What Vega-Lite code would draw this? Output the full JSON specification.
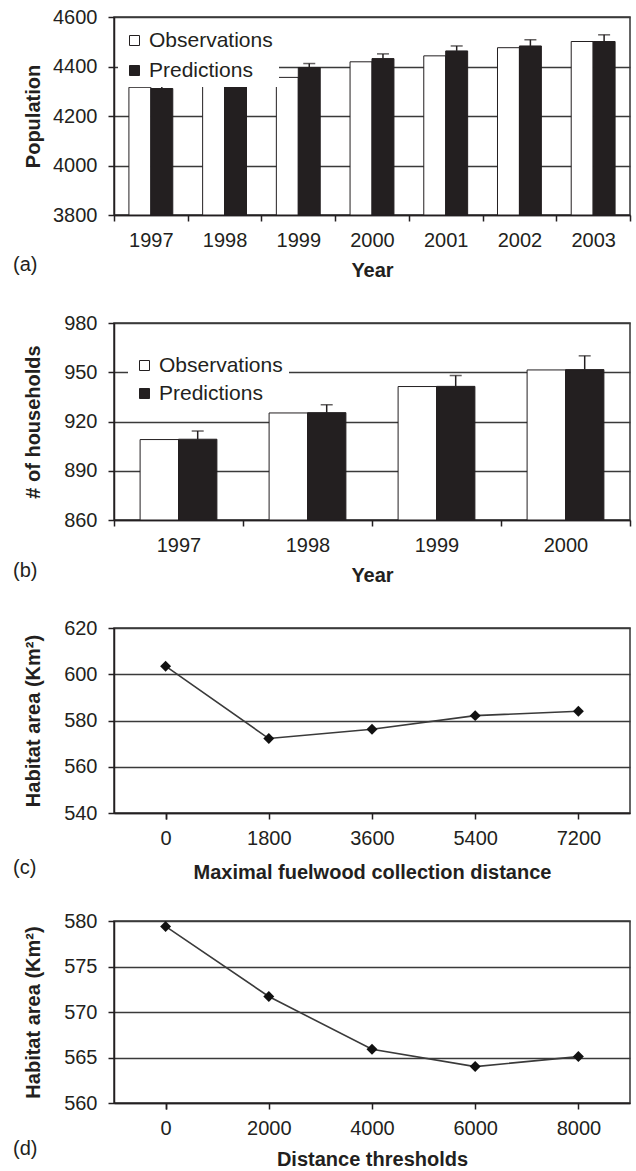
{
  "$schema": "https://vega.github.io/schema/vega-lite/v6.json",
  "background": "white",
  "padding": {"left": 12, "top": 6, "right": 5, "bottom": 5},
  "config": {
    "font": "Liberation Sans",
    "view": {"stroke": "#333333", "strokeWidth": 1.5},
    "axis": {
      "labelFont": "Liberation Sans", "labelFontSize": 20, "labelColor": "#231f20",
      "titleFont": "Liberation Sans", "titleFontSize": 20, "titleFontWeight": "bold", "titleColor": "#231f20",
      "domainColor": "#231f20", "domainWidth": 1.5, "tickColor": "#231f20", "tickWidth": 1.5, "tickSize": 6,
      "gridColor": "#3a3a3a", "gridWidth": 1.3, "gridOpacity": 1
    },
    "axisX": {"labelAngle": 0, "grid": false, "tickBand": "extent", "labelPadding": 9, "titlePadding": 10},
    "axisY": {"grid": true, "labelPadding": 11, "titleX": -71, "titleBaseline": "bottom", "format": "d"},
    "title": {"fontSize": 20, "fontWeight": "normal", "color": "#231f20", "font": "Liberation Sans"}
  },
  "bounds": "flush",
  "spacing": 108,
  "resolve": {"scale": {"fill": "independent", "x": "independent", "y": "independent", "xOffset": "independent"}, "legend": {"fill": "independent"}},
  "vconcat": [
    {
      "width": 516, "height": 198,
      "title": {"text": "(a)", "orient": "bottom", "anchor": "start", "frame": "bounds", "offset": 0, "dx": -10, "dy": -25},
      "data": {"values": [
        {"year": "1997", "series": "Observations", "value": 4316, "err": null},
        {"year": "1997", "series": "Predictions", "value": 4311, "err": 4324},
        {"year": "1998", "series": "Observations", "value": 4324, "err": null},
        {"year": "1998", "series": "Predictions", "value": 4325, "err": null},
        {"year": "1999", "series": "Observations", "value": 4356, "err": null},
        {"year": "1999", "series": "Predictions", "value": 4396, "err": 4412},
        {"year": "2000", "series": "Observations", "value": 4419, "err": null},
        {"year": "2000", "series": "Predictions", "value": 4432, "err": 4451},
        {"year": "2001", "series": "Observations", "value": 4443, "err": null},
        {"year": "2001", "series": "Predictions", "value": 4463, "err": 4483},
        {"year": "2002", "series": "Observations", "value": 4476, "err": null},
        {"year": "2002", "series": "Predictions", "value": 4483, "err": 4508},
        {"year": "2003", "series": "Observations", "value": 4501, "err": null},
        {"year": "2003", "series": "Predictions", "value": 4501, "err": 4528}
      ]},
      "encoding": {
        "x": {"field": "year", "type": "ordinal", "scale": {"paddingInner": 0, "paddingOuter": 0}, "axis": {"title": "Year"}},
        "xOffset": {"field": "series", "type": "nominal", "scale": {"paddingInner": 0, "paddingOuter": 0.68}}
      },
      "layer": [
        {
          "mark": {"type": "bar", "stroke": "#231f20", "strokeWidth": 1},
          "encoding": {
            "y": {"field": "value", "type": "quantitative", "scale": {"domain": [3800, 4600], "zero": false, "nice": false},
                  "axis": {"title": "Population", "values": [3800, 4000, 4200, 4400, 4600]}},
            "y2": {"datum": 3800},
            "fill": {"field": "series", "type": "nominal",
                     "scale": {"domain": ["Observations", "Predictions"], "range": ["#ffffff", "#231f20"]},
                     "legend": {"orient": "none", "legendX": 4, "legendY": 7, "title": null, "fillColor": "white", "padding": 6,
                                "symbolType": "square", "symbolSize": 100, "symbolStrokeColor": "#231f20", "symbolStrokeWidth": 1,
                                "labelFontSize": 21, "labelOffset": 4, "rowPadding": 8, "labelColor": "#231f20", "labelFont": "Liberation Sans"}}
          }
        },
        {
          "transform": [{"filter": "datum.err != null"}],
          "mark": {"type": "rule", "color": "#231f20", "strokeWidth": 1.5},
          "encoding": {"y": {"field": "value", "type": "quantitative"}, "y2": {"field": "err"}}
        },
        {
          "transform": [{"filter": "datum.err != null"}],
          "mark": {"type": "tick", "color": "#231f20", "thickness": 1.5, "size": 12},
          "encoding": {"y": {"field": "err", "type": "quantitative"}}
        }
      ]
    },
    {
      "width": 516, "height": 197,
      "title": {"text": "(b)", "orient": "bottom", "anchor": "start", "frame": "bounds", "offset": 0, "dx": -10, "dy": -24},
      "data": {"values": [
        {"year": "1997", "series": "Observations", "value": 909.0, "err": null},
        {"year": "1997", "series": "Predictions", "value": 909.2, "err": 914.2},
        {"year": "1998", "series": "Observations", "value": 925.2, "err": null},
        {"year": "1998", "series": "Predictions", "value": 925.4, "err": 930.2},
        {"year": "1999", "series": "Observations", "value": 941.3, "err": null},
        {"year": "1999", "series": "Predictions", "value": 941.4, "err": 948.0},
        {"year": "2000", "series": "Observations", "value": 951.4, "err": null},
        {"year": "2000", "series": "Predictions", "value": 951.6, "err": 960.0}
      ]},
      "encoding": {
        "x": {"field": "year", "type": "ordinal", "scale": {"paddingInner": 0, "paddingOuter": 0}, "axis": {"title": "Year"}},
        "xOffset": {"field": "series", "type": "nominal", "scale": {"paddingInner": 0, "paddingOuter": 0.68}}
      },
      "layer": [
        {
          "mark": {"type": "bar", "stroke": "#231f20", "strokeWidth": 1},
          "encoding": {
            "y": {"field": "value", "type": "quantitative", "scale": {"domain": [860, 980], "zero": false, "nice": false},
                  "axis": {"title": "# of households", "values": [860, 890, 920, 950, 980]}},
            "y2": {"datum": 860},
            "fill": {"field": "series", "type": "nominal",
                     "scale": {"domain": ["Observations", "Predictions"], "range": ["#ffffff", "#231f20"]},
                     "legend": {"orient": "none", "legendX": 14, "legendY": 26, "title": null, "fillColor": "white", "padding": 6,
                                "symbolType": "square", "symbolSize": 100, "symbolStrokeColor": "#231f20", "symbolStrokeWidth": 1,
                                "labelFontSize": 21, "labelOffset": 4, "rowPadding": 6, "labelColor": "#231f20", "labelFont": "Liberation Sans"}}
          }
        },
        {
          "transform": [{"filter": "datum.err != null"}],
          "mark": {"type": "rule", "color": "#231f20", "strokeWidth": 1.5},
          "encoding": {"y": {"field": "value", "type": "quantitative"}, "y2": {"field": "err"}}
        },
        {
          "transform": [{"filter": "datum.err != null"}],
          "mark": {"type": "tick", "color": "#231f20", "thickness": 1.5, "size": 12},
          "encoding": {"y": {"field": "err", "type": "quantitative"}}
        }
      ]
    },
    {
      "width": 516, "height": 185,
      "title": {"text": "(c)", "orient": "bottom", "anchor": "start", "frame": "bounds", "offset": 0, "dx": -10, "dy": -24},
      "data": {"values": [
        {"dist": "0", "area": 603.5},
        {"dist": "1800", "area": 572.2},
        {"dist": "3600", "area": 576.2},
        {"dist": "5400", "area": 582.1},
        {"dist": "7200", "area": 584.0}
      ]},
      "encoding": {
        "x": {"field": "dist", "type": "ordinal", "sort": null, "scale": {"paddingInner": 0, "paddingOuter": 0}, "axis": {"title": "Maximal fuelwood collection distance", "titlePadding": 14}},
        "y": {"field": "area", "type": "quantitative", "scale": {"domain": [540, 620], "zero": false, "nice": false},
              "axis": {"title": "Habitat area (Km²)", "values": [540, 560, 580, 600, 620]}}
      },
      "layer": [
        {"mark": {"type": "line", "color": "#3a3a3a", "strokeWidth": 1.6}},
        {"mark": {"type": "point", "shape": "diamond", "filled": true, "color": "#111111", "size": 120, "opacity": 1}}
      ]
    },
    {
      "width": 516, "height": 182,
      "title": {"text": "(d)", "orient": "bottom", "anchor": "start", "frame": "bounds", "offset": 0, "dx": -10, "dy": -30},
      "data": {"values": [
        {"dist": "0", "area": 579.4},
        {"dist": "2000", "area": 571.7},
        {"dist": "4000", "area": 565.9},
        {"dist": "6000", "area": 564.0},
        {"dist": "8000", "area": 565.1}
      ]},
      "encoding": {
        "x": {"field": "dist", "type": "ordinal", "sort": null, "scale": {"paddingInner": 0, "paddingOuter": 0}, "axis": {"title": "Distance thresholds", "titlePadding": 11}},
        "y": {"field": "area", "type": "quantitative", "scale": {"domain": [560, 580], "zero": false, "nice": false},
              "axis": {"title": "Habitat area (Km²)", "values": [560, 565, 570, 575, 580]}}
      },
      "layer": [
        {"mark": {"type": "line", "color": "#3a3a3a", "strokeWidth": 1.6}},
        {"mark": {"type": "point", "shape": "diamond", "filled": true, "color": "#111111", "size": 120, "opacity": 1}}
      ]
    }
  ]
}
